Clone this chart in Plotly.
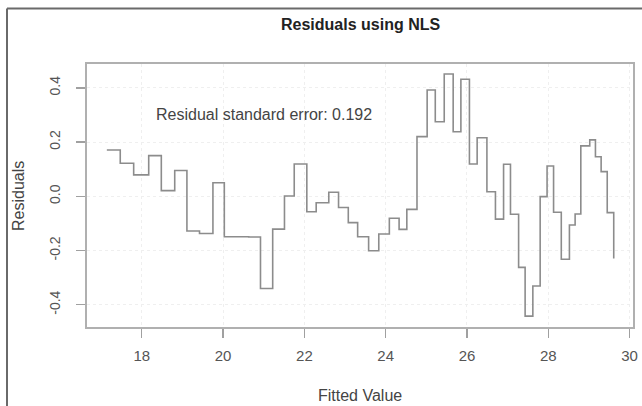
import plotly.graph_objects as go

# Step-plot data (fitted value, residual)
fitted = [17.14, 17.47, 17.80, 18.17, 18.48, 18.81, 19.11, 19.42, 19.75, 20.03,
          20.63, 20.92, 21.22, 21.51, 21.75, 22.06, 22.29, 22.60, 22.84, 23.08,
          23.31, 23.58, 23.83, 24.09, 24.33, 24.52, 24.77, 25.02, 25.22, 25.44,
          25.66, 25.85, 26.06, 26.25, 26.49, 26.70, 26.90, 27.07, 27.27, 27.43,
          27.62, 27.80, 27.97, 28.13, 28.32, 28.52, 28.66, 28.80, 29.02, 29.16,
          29.30, 29.45, 29.61]
residuals = [0.171, 0.122, 0.079, 0.150, 0.021, 0.095, -0.128, -0.137, 0.050, -0.149,
             -0.150, -0.340, -0.121, 0.001, 0.119, -0.057, -0.024, 0.015, -0.041, -0.097,
             -0.149, -0.201, -0.139, -0.081, -0.122, -0.048, 0.220, 0.392, 0.275, 0.451,
             0.238, 0.432, 0.119, 0.216, 0.017, -0.084, 0.118, -0.066, -0.262, -0.442,
             -0.331, -0.001, 0.112, -0.059, -0.232, -0.106, -0.065, 0.186, 0.208, 0.146,
             0.091, -0.060, -0.229]

x_tick_vals = [18, 20, 22, 24, 26, 28, 30]
x_tick_text = ["18", "20", "22", "24", "26", "28", "30"]
y_tick_vals = [-0.4, -0.2, 0.0, 0.2, 0.4]
y_tick_text = ["-0.4", "-0.2", "0.0", "0.2", "0.4"]

title_text = "Residuals using NLS"
x_title = "Fitted Value"
y_title = "Residuals"
note_text = "Residual standard error: 0.192"
note_pos = (21.0, 0.30)

FONT = "Liberation Sans, Arial, Helvetica, sans-serif"

# plot-area pixel box
px_l, px_r, px_t, px_b = 87, 633, 64, 327
def to_paper_x(px):
    return (px - px_l) / (px_r - px_l)
def to_paper_y(py):
    return (px_b - py) / (px_b - px_t)

fig = go.Figure()
fig.add_trace(go.Scatter(
    x=fitted, y=residuals, mode="lines",
    line=dict(shape="hv", color="#8c8c8c", width=1.6),
    hoverinfo="skip",
))

axis_common = dict(
    showline=True, mirror=True, linecolor="#b0b0b0", linewidth=1.6,
    ticks="outside", ticklen=9, tickcolor="#a0a0a0", tickwidth=1.3,
    showgrid=True, gridcolor="#efefef", griddash="dot", gridwidth=1,
    zeroline=False, automargin=False, ticklabeloverflow="allow",
)

fig.update_layout(
    width=642, height=406,
    margin=dict(l=px_l, r=642 - px_r, t=px_t, b=406 - px_b, autoexpand=False),
    paper_bgcolor="white", plot_bgcolor="white",
    showlegend=False, hovermode=False,
    font=dict(family=FONT, size=15, color="#444444"),
    xaxis=dict(
        range=[16.652, 30.084], tickvals=x_tick_vals, ticktext=x_tick_text,
        ticklabelstandoff=5,
        tickfont=dict(family=FONT, size=15, color="#555555"),
        **axis_common,
    ),
    yaxis=dict(
        range=[-0.482, 0.488], tickvals=y_tick_vals, ticktext=y_tick_text,
        tickangle=-90, ticklabelstandoff=11,
        tickfont=dict(family=FONT, size=14, color="#555555"),
        **axis_common,
    ),
)

# title and axis titles
fig.add_annotation(x=0.5, y=to_paper_y(25), xref="paper", yref="paper",
                   text="<b>" + title_text + "</b>", showarrow=False,
                   font=dict(family=FONT, size=16, color="#222222"),
                   xanchor="center", yanchor="middle")
fig.add_annotation(x=0.5, y=to_paper_y(395), xref="paper", yref="paper",
                   text=x_title, showarrow=False,
                   font=dict(family=FONT, size=16, color="#444444"),
                   xanchor="center", yanchor="middle")
fig.add_annotation(x=to_paper_x(18), y=to_paper_y(196), xref="paper", yref="paper",
                   text=y_title, showarrow=False, textangle=-90,
                   font=dict(family=FONT, size=16, color="#444444"),
                   xanchor="center", yanchor="middle")

fig.add_annotation(
    x=note_pos[0], y=note_pos[1], xref="x", yref="y",
    text=note_text, showarrow=False,
    font=dict(family=FONT, size=16, color="#444444"),
    xanchor="center", yanchor="middle",
)

# outer frame of the screenshot (top and left edges)
fig.add_shape(type="line", xref="paper", yref="paper",
              x0=to_paper_x(7), x1=to_paper_x(7), y0=to_paper_y(406), y1=to_paper_y(8.5),
              line=dict(color="#6a6a6a", width=2))
fig.add_shape(type="line", xref="paper", yref="paper",
              x0=to_paper_x(7), x1=to_paper_x(642), y0=to_paper_y(8.5), y1=to_paper_y(8.5),
              line=dict(color="#6a6a6a", width=2))

fig.write_html(
    "out.html",
    config={"displayModeBar": False, "staticPlot": True},
    post_script="document.body.style.margin='0';document.body.style.overflow='hidden';",
)
